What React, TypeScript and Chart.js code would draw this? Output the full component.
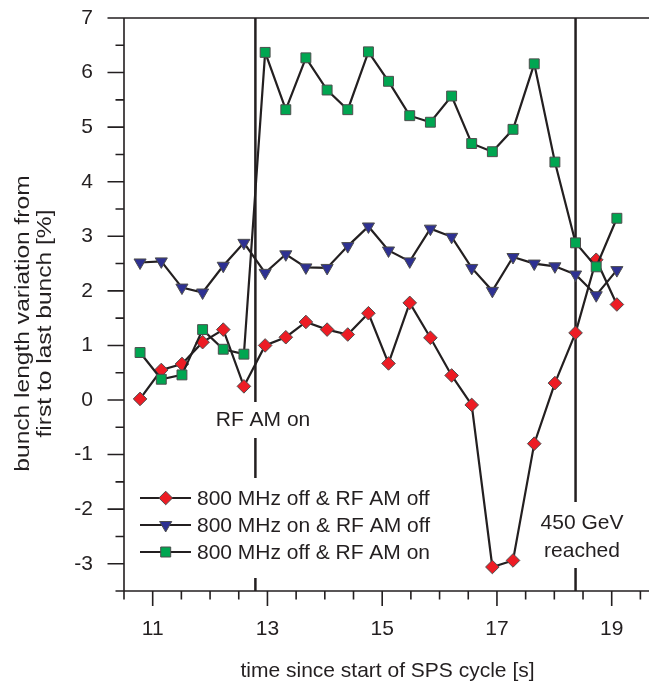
import React, { useEffect, useRef } from 'react';
import { Chart, registerables } from 'chart.js';

Chart.register(...registerables);

// ---- data ----
const times = [10.78, 11.15, 11.51, 11.87, 12.23, 12.59, 12.96, 13.32, 13.67, 14.04, 14.4, 14.76, 15.11, 15.48, 15.84, 16.21, 16.56, 16.92, 17.28, 17.65, 18.01, 18.37, 18.73, 19.09];
const mhzOffAmOff = [0.02, 0.55, 0.66, 1.06, 1.29, 0.25, 1.0, 1.15, 1.43, 1.29, 1.2, 1.59, 0.67, 1.78, 1.14, 0.45, -0.09, -3.06, -2.94, -0.8, 0.31, 1.23, 2.57, 1.75];
const mhzOnAmOff = [2.52, 2.54, 2.06, 1.97, 2.46, 2.88, 2.33, 2.67, 2.43, 2.42, 2.82, 3.18, 2.74, 2.54, 3.14, 2.99, 2.42, 2.0, 2.62, 2.5, 2.45, 2.3, 1.92, 2.38];
const mhzOffAmOn = [0.87, 0.38, 0.46, 1.29, 0.93, 0.84, 6.37, 5.32, 6.27, 5.68, 5.32, 6.38, 5.84, 5.21, 5.09, 5.57, 4.7, 4.55, 4.96, 6.16, 4.36, 2.88, 2.44, 3.33];
const seriesNames = ['800 MHz off & RF AM off', '800 MHz on & RF AM off', '800 MHz off & RF AM on'];

const xTickValues = [11, 13, 15, 17, 19];
const xTickLabels = ['11', '13', '15', '17', '19'];
const yTickValues = [-3, -2, -1, 0, 1, 2, 3, 4, 5, 6, 7];
const yTickLabels = ['-3', '-2', '-1', '0', '1', '2', '3', '4', '5', '6', '7'];
const xTitle = 'time since start of SPS cycle [s]';
const yTitleLines = ['bunch length variation from', 'first to last bunch [%]'];
const eventTimes = [12.79, 18.37];
const eventLabels = [['RF AM on'], ['450 GeV', 'reached']];

// ---- styles ----
const INK = '#231f20';
const FONT = '21px "Liberation Sans", Arial, Helvetica, sans-serif';
const RED = '#ed1c24';
const BLUE = '#2e3192';
const GREEN = '#00a651';
const MARK_EDGE = '#4d4d4d';

function drawMarker(ctx: CanvasRenderingContext2D, kind: string, cx: number, cy: number, fill: string) {
  ctx.beginPath();
  if (kind === 'diamond') {
    const r = 6.8;
    ctx.moveTo(cx, cy - r); ctx.lineTo(cx + r, cy); ctx.lineTo(cx, cy + r); ctx.lineTo(cx - r, cy);
  } else if (kind === 'tri') {
    const r = 7;
    ctx.moveTo(cx, cy + r); ctx.lineTo(cx - r * 0.866, cy - r / 2); ctx.lineTo(cx + r * 0.866, cy - r / 2);
  } else {
    const h = 5;
    ctx.rect(cx - h, cy - h, 2 * h, 2 * h);
  }
  ctx.closePath();
  ctx.fillStyle = fill;
  ctx.fill();
  ctx.lineWidth = 1;
  ctx.strokeStyle = MARK_EDGE;
  ctx.stroke();
}

const decor = {
  id: 'decor',
  beforeDatasetsDraw(chart: any) {
    const { ctx, chartArea: ca, scales } = chart;
    const x = scales.x;
    ctx.save();
    ctx.strokeStyle = INK;
    ctx.lineWidth = 2.5;
    eventTimes.forEach((t) => {
      const px = x.getPixelForValue(t);
      ctx.beginPath();
      ctx.moveTo(px, ca.top);
      ctx.lineTo(px, ca.bottom);
      ctx.stroke();
    });
    // gaps in the event lines behind labels and legend
    ctx.fillStyle = '#fff';
    ctx.fillRect(208, 402, 110, 36);
    ctx.fillRect(536, 502, 92, 66);
    ctx.fillRect(134, 478, 312, 100);
    ctx.restore();
  },
  afterDraw(chart: any) {
    const { ctx, chartArea: ca, scales } = chart;
    const x = scales.x;
    const y = scales.y;
    ctx.save();
    ctx.strokeStyle = INK;
    ctx.lineWidth = 1.6;
    // frame: left, bottom, top
    ctx.beginPath();
    ctx.moveTo(ca.left, ca.top); ctx.lineTo(ca.left, ca.bottom);
    ctx.moveTo(ca.left, ca.bottom); ctx.lineTo(ca.right, ca.bottom);
    ctx.moveTo(ca.left, ca.top); ctx.lineTo(ca.right, ca.top);
    ctx.stroke();
    // ticks: major at labelled values, minor every 0.5
    ctx.beginPath();
    for (let v = y.min; v <= y.max + 1e-9; v += 0.5) {
      const py = y.getPixelForValue(v);
      const len = yTickValues.some((t) => Math.abs(t - v) < 1e-6) ? 16.5 : 8.5;
      ctx.moveTo(ca.left - len, py); ctx.lineTo(ca.left, py);
    }
    for (let v = x.min; v <= x.max + 1e-9; v += 0.5) {
      const px = x.getPixelForValue(v);
      const len = xTickValues.some((t) => Math.abs(t - v) < 1e-6) ? 15 : 8.5;
      ctx.moveTo(px, ca.bottom); ctx.lineTo(px, ca.bottom + len);
    }
    ctx.stroke();

    ctx.fillStyle = INK;
    ctx.font = FONT;
    // event labels
    ctx.textAlign = 'center';
    ctx.textBaseline = 'alphabetic';
    ctx.fillText(eventLabels[0][0], 263, 426);
    ctx.fillText(eventLabels[1][0], 582, 528.5);
    ctx.fillText(eventLabels[1][1], 582, 557);

    // x title
    ctx.fillText(xTitle, 387.5, 676.5);

    // y title (rotated)
    const yBase = [28.5, 50.5];
    yTitleLines.forEach((line, i) => {
      ctx.save();
      ctx.translate(yBase[i], 323.5);
      ctx.rotate(-Math.PI / 2);
      ctx.scale(1.17, 1);
      ctx.textAlign = 'center';
      ctx.textBaseline = 'alphabetic';
      ctx.fillText(line, 0, 0);
      ctx.restore();
    });

    // legend
    const rows = [498, 525, 552];
    const kinds = ['diamond', 'tri', 'square'];
    const fills = [RED, BLUE, GREEN];
    rows.forEach((ry, i) => {
      ctx.strokeStyle = INK;
      ctx.lineWidth = 2.2;
      ctx.beginPath();
      ctx.moveTo(140, ry); ctx.lineTo(191, ry);
      ctx.stroke();
      drawMarker(ctx, kinds[i], 165.7, ry, fills[i]);
      ctx.fillStyle = INK;
      ctx.font = FONT;
      ctx.textAlign = 'left';
      ctx.textBaseline = 'alphabetic';
      ctx.fillText(seriesNames[i], 197, ry + 7.3);
    });
    ctx.restore();
  },
};

export default function App() {
  const ref = useRef<HTMLCanvasElement>(null);

  useEffect(() => {
    const canvas = ref.current;
    if (!canvas) return;
    const mk = (vals: number[]) => times.map((t, i) => ({ x: t, y: vals[i] }));
    const chart = new Chart(canvas, {
      type: 'line',
      data: {
        datasets: [
          {
            label: seriesNames[0],
            data: mk(mhzOffAmOff),
            borderColor: INK,
            borderWidth: 2.2,
            pointStyle: 'rectRot',
            pointRadius: 6.8,
            pointBackgroundColor: RED,
            pointBorderColor: MARK_EDGE,
            pointBorderWidth: 1,
            tension: 0,
            order: 2,
          },
          {
            label: seriesNames[1],
            data: mk(mhzOnAmOff),
            borderColor: INK,
            borderWidth: 2.2,
            pointStyle: 'triangle',
            pointRotation: 180,
            pointRadius: 7,
            pointBackgroundColor: BLUE,
            pointBorderColor: MARK_EDGE,
            pointBorderWidth: 1,
            tension: 0,
            order: 1,
          },
          {
            label: seriesNames[2],
            data: mk(mhzOffAmOn),
            borderColor: INK,
            borderWidth: 2.2,
            pointStyle: 'rect',
            pointRadius: 7,
            pointBackgroundColor: GREEN,
            pointBorderColor: MARK_EDGE,
            pointBorderWidth: 1,
            tension: 0,
            order: 0,
          },
        ] as any,
      },
      options: {
        animation: false,
        responsive: false,
        events: [],
        layout: { autoPadding: false, padding: { top: 18, left: 0, right: 0, bottom: 0 } },
        plugins: { legend: { display: false }, tooltip: { enabled: false } },
        scales: {
          x: {
            type: 'linear',
            min: 10.5,
            max: 19.65,
            afterBuildTicks: (s: any) => { s.ticks = xTickValues.map((v) => ({ value: v })); },
            afterFit: (s: any) => {
              s.height = 90;
              s.paddingLeft = 0; s.paddingRight = 0; s.paddingTop = 0; s.paddingBottom = 0;
            },
            grid: { display: false, drawTicks: false },
            border: { display: false },
            ticks: {
              autoSkip: false,
              maxRotation: 0,
              padding: 26,
              color: INK,
              font: { family: '"Liberation Sans", Arial, sans-serif', size: 21 },
              callback: (v: any) => {
                const i = xTickValues.indexOf(Number(v));
                return i >= 0 ? xTickLabels[i] : '';
              },
            },
          },
          y: {
            type: 'linear',
            min: -3.5,
            max: 7,
            afterBuildTicks: (s: any) => { s.ticks = yTickValues.map((v) => ({ value: v })); },
            afterFit: (s: any) => {
              s.width = 124;
              s.paddingLeft = 0; s.paddingRight = 0; s.paddingTop = 0; s.paddingBottom = 0;
            },
            grid: { display: false, drawTicks: false },
            border: { display: false },
            ticks: {
              autoSkip: false,
              padding: 31,
              color: INK,
              font: { family: '"Liberation Sans", Arial, sans-serif', size: 21 },
              callback: (v: any) => {
                const i = yTickValues.indexOf(Number(v));
                return i >= 0 ? yTickLabels[i] : '';
              },
            },
          },
        },
      } as any,
      plugins: [decor],
    });
    return () => chart.destroy();
  }, []);

  return (
    <div style={{ position: 'fixed', left: 0, top: 0, width: 649, height: 681, background: '#fff' }}>
      <canvas ref={ref} width={649} height={681} style={{ display: 'block', width: 649, height: 681 }} />
    </div>
  );
}
